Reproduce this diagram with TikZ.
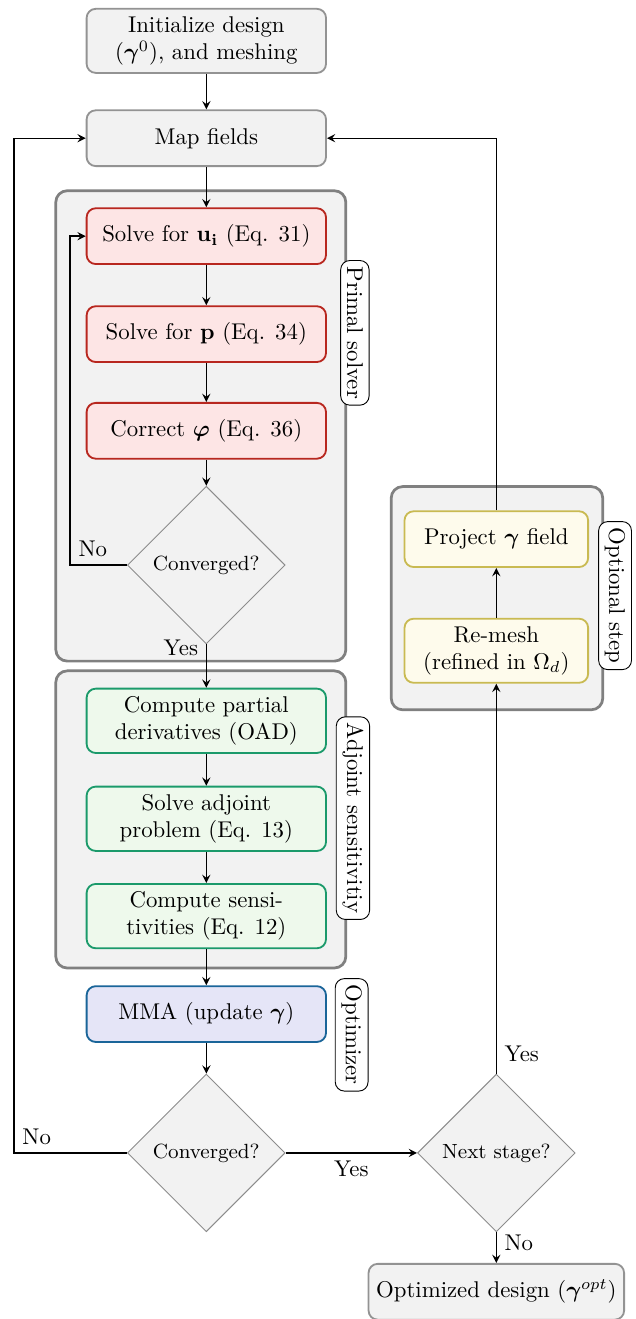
\documentclass[tikz,border=0pt]{standalone}
\usepackage{amsmath,bm}
\usetikzlibrary{shapes.geometric,positioning,arrows.meta}

\definecolor{primalred}{HTML}{B8271F}
\definecolor{primalfill}{HTML}{FDE5E5}
\definecolor{adjgreen}{HTML}{1B9A6B}
\definecolor{adjfill}{HTML}{EEF9EC}
\definecolor{optblue}{HTML}{1A6599}
\definecolor{optfill}{HTML}{E5E5F7}
\definecolor{meshyellow}{HTML}{C9BA52}
\definecolor{meshfill}{HTML}{FEFBEC}

\tikzset{
  box/.style={draw, thick, rounded corners=4pt, align=center, minimum width=3.69cm, minimum height=0.86cm},
  graybox/.style={box, draw=gray!85, fill=gray!10},
  primalbox/.style={box, draw=primalred, fill=primalfill},
  adjbox/.style={box, draw=adjgreen, fill=adjfill},
  optbox/.style={box, draw=optblue, fill=optfill},
  meshbox/.style={box, draw=meshyellow, fill=meshfill, minimum width=2.83cm},
  decision/.style={diamond, aspect=1, draw=gray!90, fill=gray!10, font=\small, minimum size=2.43cm, inner sep=1pt},
  group/.style={draw=gray, fill=gray!10, rounded corners=5pt, line width=1.2pt},
  tag/.style={draw, rounded corners=4pt, fill=white, rotate=-90, inner sep=2.7pt},
  arr/.style={semithick, -stealth}
}

\begin{document}
\begin{tikzpicture}
\useasboundingbox (0,0) rectangle (9.80,-20.33);

% groups
\draw[group] (0.86,-2.94) rectangle (5.33,-10.19);
\draw[group] (0.86,-10.34) rectangle (5.33,-14.92);
\draw[group] (6.03,-7.50) rectangle (9.29,-10.94);

% main column
\node[graybox] (init) at (3.18,-0.63) {Initialize design\\($\boldsymbol{\gamma}^0$), and meshing};
\node[graybox] (map) at (3.18,-2.13) {Map fields};
\node[primalbox] (solveu) at (3.18,-3.64) {Solve for $\mathbf{u_i}$ (Eq. 31)};
\node[primalbox] (solvep) at (3.18,-5.15) {Solve for $\mathbf{p}$ (Eq. 34)};
\node[primalbox] (correct) at (3.18,-6.64) {Correct $\boldsymbol{\varphi}$ (Eq. 36)};
\node[decision] (conv1) at (3.18,-8.71) {Converged?};
\node[adjbox] (partial) at (3.18,-11.11) {Compute partial\\derivatives (OAD)};
\node[adjbox] (adjoint) at (3.18,-12.62) {Solve adjoint\\problem (Eq. 13)};
\node[adjbox] (sens) at (3.18,-14.12) {Compute sensi-\\tivities (Eq. 12)};
\node[optbox] (mma) at (3.18,-15.63) {MMA (update $\boldsymbol{\gamma}$)};
\node[decision] (conv2) at (3.18,-17.77) {Converged?};

% right column
\node[decision] (next) at (7.65,-17.77) {Next stage?};
\node[graybox, minimum width=0] (final) at (7.65,-19.91) {Optimized design ($\boldsymbol{\gamma}^{opt}$)};
\node[meshbox] (remesh) at (7.65,-10.03) {Re-mesh\\(refined in $\Omega_d$)};
\node[meshbox] (project) at (7.65,-8.31) {Project $\boldsymbol{\gamma}$ field};

% group tags
\node[tag] (primaltag) at (5.47,-5.13) {Primal solver};
\node[tag] (adjtag) at (5.44,-12.61) {Adjoint sensitivitiy};
\node[tag] (opttag) at (5.42,-15.95) {Optimizer};
\node[tag] (meshtag) at (9.48,-9.18) {Optional step};

% connectors
\draw[arr] (init) -- (map);
\draw[arr] (map) -- (solveu);
\draw[arr] (solveu) -- (solvep);
\draw[arr] (solvep) -- (correct);
\draw[arr] (correct) -- (conv1);
\draw[arr] (conv1.west) -- node[above, pos=0.6] {No} ++(-0.88,0) |- (solveu.west);
\draw[arr] (conv1.south) -- node[left, pos=0.08] {Yes} (partial.north);
\draw[arr] (partial) -- (adjoint);
\draw[arr] (adjoint) -- (sens);
\draw[arr] (sens) -- (mma);
\draw[arr] (mma) -- (conv2);
\draw[arr] (conv2.west) -- node[above, pos=0.8] {No} ++(-1.74,0) |- (map.west);
\draw[arr] (conv2.east) -- node[below] {Yes} (next.west);
\draw[arr] (next.south) -- node[right, pos=0.35] {No} (final.north);
\draw[arr] (next.north) -- node[right, pos=0.05] {Yes} (remesh.south);
\draw[arr] (remesh) -- (project);
\draw[arr] (project.north) |- (map.east);
\end{tikzpicture}
\end{document}
